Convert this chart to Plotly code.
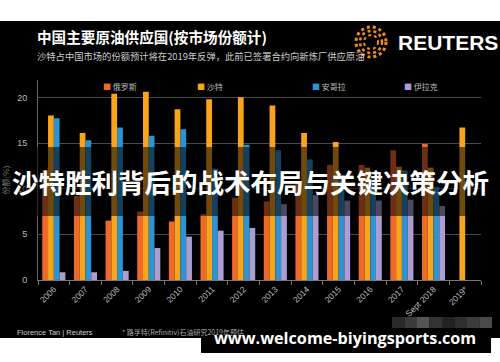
import plotly.graph_objects as go

years = ["2006", "2007", "2008", "2009", "2010", "2011", "2012", "2013",
         "2014", "2015", "2016", "2017", "Sept 2018", "2019*"]
series_names = ["俄罗斯", "沙特", "安哥拉", "伊拉克"]
russia = [12.0, 9.2, 6.5, 7.5, 6.4, 7.2, 9.0, 8.6, 10.7, 12.6, 12.6, 14.2, 14.9, None]
saudi = [18.0, 16.1, 20.4, 20.6, 18.7, 19.8, 20.0, 19.1, 16.1, 15.1, 12.3, 12.4, 12.3, 16.7]
angola = [17.7, 15.3, 16.7, 15.8, 16.5, 12.2, 14.8, 14.2, 13.2, 11.5, 11.0, 12.0, 10.2, None]
iraq = [0.85, 0.85, 1.0, 3.5, 4.75, 5.4, 5.7, 8.3, 9.3, 8.7, 8.7, 8.8, 8.1, None]
y_ticks = [0, 5, 10, 15, 20]
colors = ["#EE6A2B", "#F8A51D", "#2D93D1", "#AC9DD2"]

W, H = 500, 362
L, R, T, B = 38, 19, 80, 82
pw, ph = W - L - R, H - T - B


def px(x):
    return (x - L) / pw


def py(y):
    return (H - B - y) / ph


fig = go.Figure()
for name, vals, col in zip(series_names, [russia, saudi, angola, iraq], colors):
    fig.add_trace(go.Bar(x=years, y=vals, name=name, marker_color=col,
                         marker_line_width=0, showlegend=False))

fig.update_layout(
    template="none",
    width=W, height=H,
    margin=dict(l=L, r=R, t=T, b=B, pad=0, autoexpand=False),
    paper_bgcolor="#000000", plot_bgcolor="#000000",
    barmode="group", bargap=0.27, bargroupgap=0,
    font=dict(family="Liberation Sans, Arial, sans-serif", color="#bbbbbb"),
    xaxis=dict(type="category", tickangle=-45, tickfont=dict(size=8.5, color="#bbbbbb"),
               showgrid=False, showline=True, linecolor="#777777", linewidth=1,
               ticks="outside", tickson="boundaries", ticklen=4, tickcolor="#777777",
               zeroline=False, automargin=False),
    yaxis=dict(range=[0, 21.9], tickvals=y_ticks, tickfont=dict(size=9, color="#bbbbbb"),
               showgrid=True, gridcolor="#4a4a4a", gridwidth=1,
               showline=True, linecolor="#666666", linewidth=1, zeroline=False,
               ticks="", ticklabelstandoff=8, automargin=False,
               title=dict(text="份额(%)", font=dict(size=8, color="#777777",
                                                 family="Noto Sans CJK SC"), standoff=6)),
)

shapes = []
# white strips (outside the photographed chart)
shapes.append(dict(type="rect", xref="paper", yref="paper", x0=px(0), x1=px(W), y0=py(0), y1=py(21),
                   fillcolor="#ffffff", line_width=0, layer="above"))
shapes.append(dict(type="rect", xref="paper", yref="paper", x0=px(0), x1=px(W), y0=py(338), y1=py(H),
                   fillcolor="#ffffff", line_width=0, layer="above"))
# translucent overlay band
shapes.append(dict(type="rect", xref="paper", yref="paper", x0=px(0), x1=px(W), y0=py(147), y1=py(216),
                   fillcolor="rgba(0,0,0,0.55)", line_width=0, layer="above"))
# watermark box
shapes.append(dict(type="rect", xref="paper", yref="paper", x0=px(201), x1=px(491), y0=py(324), y1=py(353),
                   fillcolor="#000000", line_width=0, layer="above"))
# blurred squares in top-right of watermark area
for i, g in enumerate(["#2a2a2a", "#3a3a3a", "#555555", "#333333", "#222222", "#2e2e2e", "#3c3c3c", "#4a4a4a"]):
    shapes.append(dict(type="rect", xref="paper", yref="paper", x0=px(392 + i * 12.5), x1=px(404.5 + i * 12.5),
                       y0=py(317), y1=py(328), fillcolor=g, line_width=0, layer="above"))
# Reuters logo (dotted rings)
cx, cy = 371, 42
for r, w in [(15, 3), (11, 2.5), (7, 2)]:
    shapes.append(dict(type="circle", xref="paper", yref="paper",
                       x0=px(cx - r), x1=px(cx + r), y0=py(cy + r), y1=py(cy - r),
                       line=dict(color="#F08A24", width=w, dash="dot"), fillcolor="rgba(0,0,0,0)",
                       layer="above"))
fig.update_layout(shapes=shapes)

cjk = "Noto Sans CJK SC"
ann = []
ann.append(dict(text="<b>中国主要原油供应国(按市场份额计)</b>", x=px(35), y=py(36), xref="paper", yref="paper",
                xanchor="left", yanchor="middle", showarrow=False,
                font=dict(family=cjk, size=14.6, color="#ffffff")))
ann.append(dict(text="沙特占中国市场的份额预计将在2019年反弹，此前已签署合约向新炼厂供应原油",
                x=px(35), y=py(56), xref="paper", yref="paper", xanchor="left", yanchor="middle",
                showarrow=False, font=dict(family=cjk, size=9.3, color="#cccccc")))
ann.append(dict(text="<b>REUTERS</b>", x=px(396), y=py(42), xref="paper", yref="paper",
                xanchor="left", yanchor="middle", showarrow=False,
                font=dict(family="Liberation Sans, Arial", size=21, color="#ffffff")))
# legend entries
leg_x = [101, 195, 310, 402]
for name, col, lx in zip(series_names, colors, leg_x):
    ann.append(dict(text=f"<span style='color:{col}'>■</span> {name}", x=px(lx), y=py(86),
                    xref="paper", yref="paper", xanchor="left", yanchor="middle", showarrow=False,
                    font=dict(family=cjk, size=8, color="#bbbbbb")))
# footer
ann.append(dict(text="Florence Tan | Reuters", x=px(15), y=py(332), xref="paper", yref="paper",
                xanchor="left", yanchor="middle", showarrow=False,
                font=dict(family="Liberation Sans, Arial", size=7.5, color="#cccccc")))
ann.append(dict(text="* 路孚特(Refinitiv)石油研究2019年预估", x=px(120), y=py(332), xref="paper", yref="paper",
                xanchor="left", yanchor="middle", showarrow=False,
                font=dict(family=cjk, size=7, color="#aaaaaa")))
# overlay band title
ann.append(dict(text="<b>沙特胜利背后的战术布局与关键决策分析</b>", x=px(250), y=py(181), xref="paper", yref="paper",
                xanchor="center", yanchor="middle", showarrow=False,
                font=dict(family=cjk, size=26.5, color="#ffffff")))
# watermark text
ann.append(dict(text="<b>www.welcome-biyingsports.com</b>", x=px(345), y=py(338), xref="paper", yref="paper",
                xanchor="center", yanchor="middle", showarrow=False,
                font=dict(family="Open Sans, DejaVu Sans", size=16.2, color="#ffffff")))
fig.update_layout(annotations=ann)

fig.write_html("out.html", config={"displayModeBar": False},
               post_script="document.body.style.margin='0px';document.body.style.padding='0px';")
